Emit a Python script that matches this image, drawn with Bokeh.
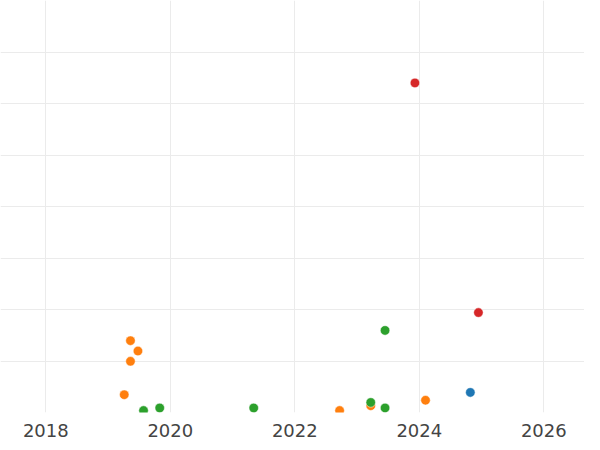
from bokeh.plotting import figure
from bokeh.models import ColumnDataSource, FixedTicker, Range1d
from bokeh.embed import file_html
from bokeh.resources import INLINE

# Data (x: year, y: value in grid units of 100)
blue_x = [2024.82]
blue_y = [39]

orange_x = [2019.36, 2019.48, 2019.36, 2019.26, 2022.72, 2023.22, 2024.10]
orange_y = [139.5, 119.4, 99.4, 34.5, 3.8, 13.1, 23.8]

green_x = [2019.57, 2019.83, 2021.34, 2023.22, 2023.45, 2023.45]
green_y = [3.8, 8.8, 8.8, 19.5, 8.8, 159.4]

red_x = [2023.93, 2024.95]
red_y = [640, 194]

x_ticks = [2018, 2020, 2022, 2024, 2026]
y_ticks = [0, 100, 200, 300, 400, 500, 600, 700, 800]

p = figure(frame_width=584, frame_height=412, output_backend="svg",
           toolbar_location=None, x_range=Range1d(2017.272, 2026.654),
           y_range=Range1d(0, 800), min_border=0)
p.outline_line_color = None
p.background_fill_color = "white"
p.border_fill_color = "white"

series = [
    (blue_x, blue_y, "#1f77b4"),
    (orange_x, orange_y, "#ff7f0e"),
    (green_x, green_y, "#2ca02c"),
    (red_x, red_y, "#d62728"),
]
for xs, ys, c in series:
    src = ColumnDataSource(dict(x=xs, y=ys))
    p.scatter("x", "y", source=src, size=9.5, fill_color=c,
              line_color="white", line_width=0.5)

p.xaxis.ticker = FixedTicker(ticks=x_ticks)
p.xaxis.axis_line_color = None
p.xaxis.major_tick_line_color = None
p.xaxis.minor_tick_line_color = None
p.xaxis.major_label_text_font = "DejaVu Sans"
p.xaxis.major_label_text_font_size = "18px"
p.xaxis.major_label_text_color = "#444444"
p.xaxis.major_label_standoff = 5

p.yaxis.visible = False
p.ygrid.ticker = FixedTicker(ticks=y_ticks)
p.xgrid.ticker = FixedTicker(ticks=x_ticks)
p.xgrid.grid_line_color = "#ebebeb"
p.ygrid.grid_line_color = "#ebebeb"
p.xgrid.grid_line_width = 1
p.ygrid.grid_line_width = 1

open("out.html", "w").write(file_html(p, INLINE))
